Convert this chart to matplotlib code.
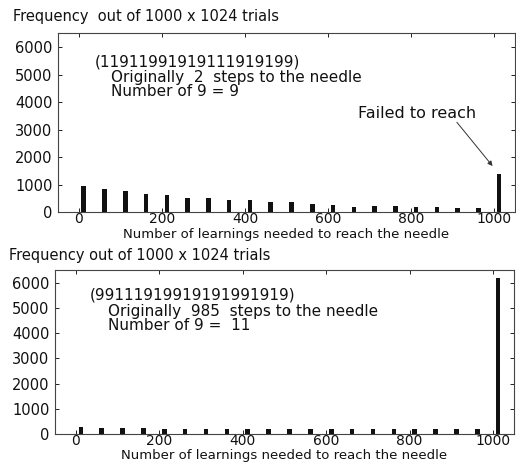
import matplotlib
matplotlib.use("Agg")
import matplotlib.pyplot as plt
import numpy as np

plt.rcParams['font.family'] = ['DejaVu Sans']

# ---- data ----
bin_centers = [12 + 50 * k for k in range(21)]
freq_top = [960, 850, 790, 670, 630, 520, 505, 455, 430, 375, 385,
            300, 275, 210, 235, 215, 180, 175, 155, 140, 1400]
freq_bottom = [260, 220, 220, 220, 210, 200, 190, 190, 200, 200, 190,
               190, 190, 200, 190, 190, 190, 200, 180, 180, 6200]
xticks = [0, 200, 400, 600, 800, 1000]
yticks = [0, 1000, 2000, 3000, 4000, 5000, 6000]
title_top = "Frequency  out of 1000 x 1024 trials"
title_bottom = "Frequency out of 1000 x 1024 trials"
xlabel = "Number of learnings needed to reach the needle"
notes_top = ["(11911991919111919199)", "Originally  2  steps to the needle", "Number of 9 = 9"]
notes_bottom = ["(99111919919191991919)", "Originally  985  steps to the needle", "Number of 9 =  11"]

W, H = 516, 463
fig = plt.figure(figsize=(W / 100, H / 100), dpi=100)
fig.patch.set_facecolor('white')

def make_ax(left, top, right, bottom):
    return fig.add_axes([left / W, 1 - bottom / H, (right - left) / W, (bottom - top) / H])

ax1 = make_ax(58, 33.3, 515, 212.3)
ax2 = make_ax(55, 270, 514, 434)

TXT = '#111111'
for ax, vals, lab_y in ((ax1, freq_top, -(238 - 212.3) / 179.0),
                        (ax2, freq_bottom, -(459.5 - 434) / 164.0)):
    ax.bar(bin_centers, vals, width=11, color='#111111', edgecolor='none')
    ax.set_xlim(-50, 1050)
    ax.set_ylim(0, 6500)
    ax.set_xticks(xticks)
    ax.set_yticks(yticks)
    ax.tick_params(direction='in', top=True, right=True, length=3, width=0.7,
                   labelsize=10, colors='#222222', labelcolor=TXT)
    ax.tick_params(axis='x', pad=0)
    ax.tick_params(axis='y', pad=4, labelsize=10.5)
    for s in ax.spines.values():
        s.set_linewidth(0.8)
        s.set_color('#444444')
    ax.set_xlabel(xlabel, fontsize=9.5, color=TXT, va='baseline')
    ax.xaxis.set_label_coords(0.5, lab_y)

fig.text(12.7 / W, 1 - 16 / H, title_top, fontsize=10.5, va='center', ha='left', color=TXT)
fig.text(9 / W, 1 - 255.5 / H, title_bottom, fontsize=10.5, va='center', ha='left', color=TXT)

ax1.text(38, 5471, notes_top[0], fontsize=11, va='center', ha='left', color=TXT)
ax1.text(78, 4902, notes_top[1], fontsize=11, va='center', ha='left', color=TXT)
ax1.text(78, 4370, notes_top[2], fontsize=11, va='center', ha='left', color=TXT)
ax1.text(814, 3598, "Failed to reach", fontsize=11.5, va='center', ha='center', color=TXT)
ax1.annotate('', xy=(996, 1680), xytext=(910, 3270),
             arrowprops=dict(arrowstyle='-|>', color='#333333', lw=0.7,
                             mutation_scale=7, shrinkA=0, shrinkB=0))

ax2.text(34, 5500, notes_bottom[0], fontsize=11, va='center', ha='left', color=TXT)
ax2.text(76, 4850, notes_bottom[1], fontsize=11, va='center', ha='left', color=TXT)
ax2.text(76, 4290, notes_bottom[2], fontsize=11, va='center', ha='left', color=TXT)

fig.savefig("out.png", dpi=100, facecolor='white')
